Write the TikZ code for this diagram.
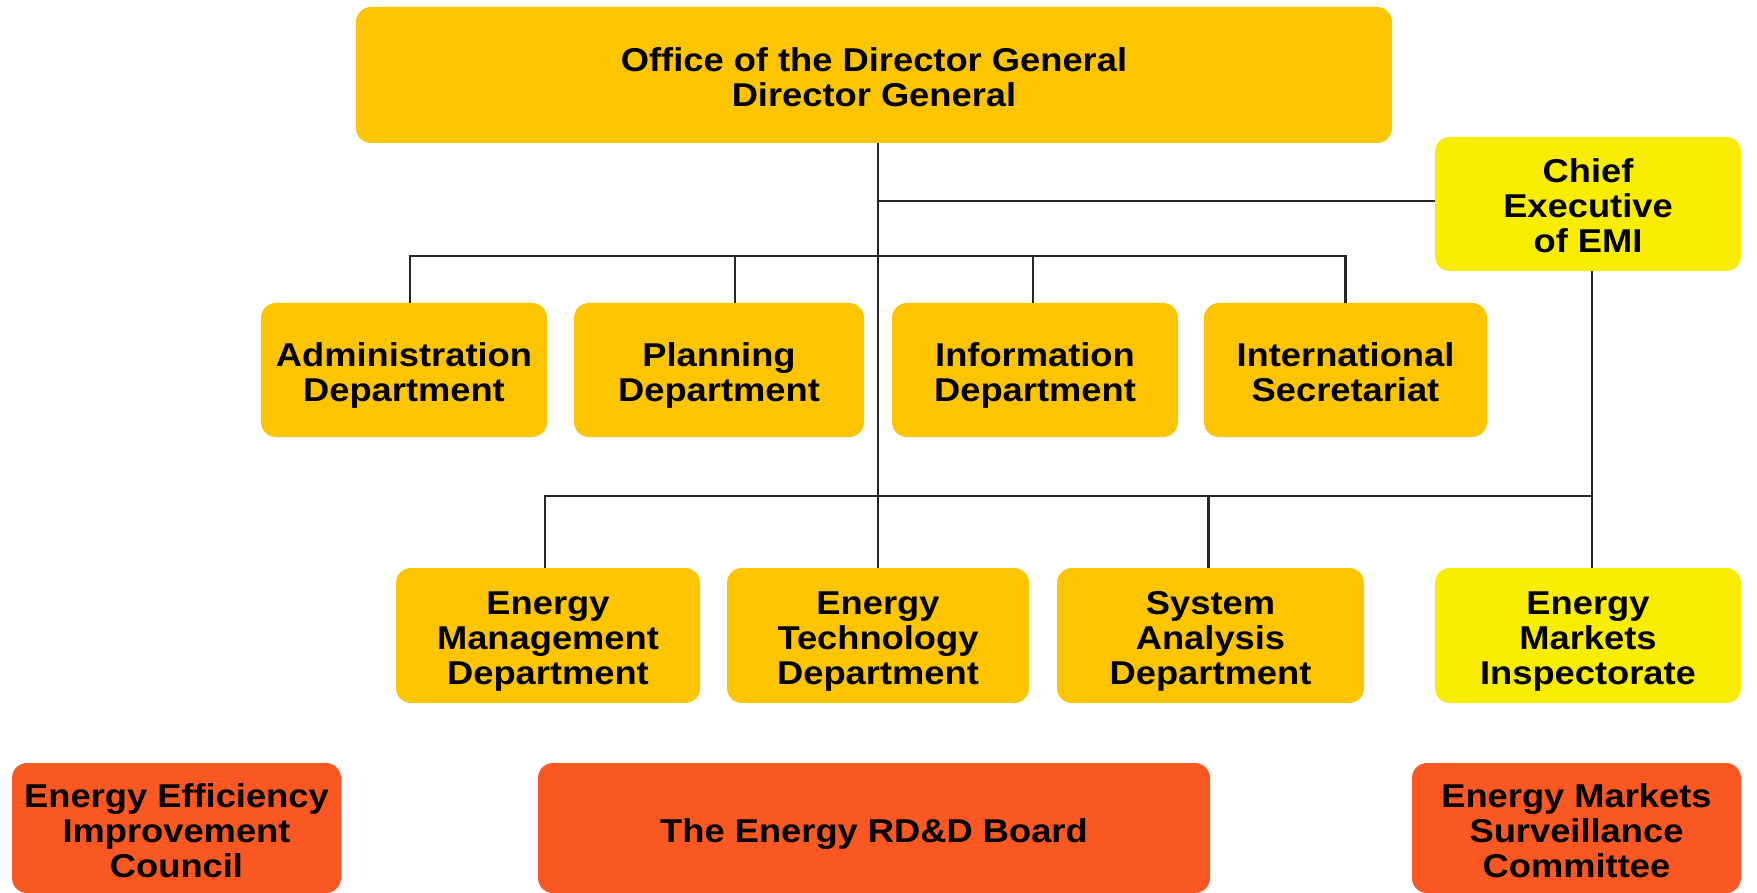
\documentclass[tikz,border=0pt]{standalone}
\usepackage{fontspec}
\setmainfont{Liberation Sans}[FakeStretch=1.1]
\definecolor{gold}{RGB}{253,197,0}
\definecolor{lemon}{RGB}{248,236,0}
\definecolor{flame}{RGB}{250,88,35}
\newcommand\tstr{\rule{0pt}{36pt}}
\newcommand\bstr{\rule[-8pt]{0pt}{8pt}}
\begin{document}
\begin{tikzpicture}[x=1pt,y=-1pt,
  box/.style={rounded corners=15pt, inner sep=0pt, align=center,
    font=\fontsize{33}{35}\selectfont\bfseries, text=black, minimum height=134pt},
  goldbox/.style={box, fill=gold},
  lemonbox/.style={box, fill=lemon},
  flamebox/.style={box, fill=flame, minimum height=130pt},
  conn/.style={draw=black!85, line width=2.6pt}]
\useasboundingbox (0,0) rectangle (1757,893);
% top
\node[goldbox, minimum width=1036pt, minimum height=136pt] (top) at (874,75) {\tstr Office of the Director General\\Director General\bstr};
\node[lemonbox, minimum width=306pt] (chief) at (1588,204) {\tstr Chief\\Executive\\of EMI\bstr};
% row 2
\node[goldbox, minimum width=286pt] (adm) at (404,370) {\tstr Administration\\Department\bstr};
\node[goldbox, minimum width=290pt] (plan) at (719,370) {\tstr Planning\\Department\bstr};
\node[goldbox, minimum width=286pt] (info) at (1035,370) {\tstr Information\\Department\bstr};
\node[goldbox, minimum width=283pt] (intl) at (1345.5,370) {\tstr International\\Secretariat\bstr};
% row 3
\node[goldbox, minimum width=304pt, minimum height=135pt] (em) at (548,635.5) {\tstr Energy\\Management\\Department\bstr};
\node[goldbox, minimum width=302pt, minimum height=135pt] (et) at (878,635.5) {\tstr Energy\\Technology\\Department\bstr};
\node[goldbox, minimum width=307pt, minimum height=135pt] (sa) at (1210.5,635.5) {\tstr System\\Analysis\\Department\bstr};
\node[lemonbox, minimum width=306pt, minimum height=135pt] (emi) at (1588,635.5) {\tstr Energy\\Markets\\Inspectorate\bstr};
% row 4
\node[flamebox, minimum width=329pt] (eeic) at (176.5,828) {\tstr Energy Efficiency\\Improvement\\Council\bstr};
\node[flamebox, minimum width=672pt] (rdd) at (874,828) {\tstr The Energy RD\&D Board\bstr};
\node[flamebox, minimum width=329pt] (emsc) at (1576.5,828) {\tstr Energy Markets\\Surveillance\\Committee\bstr};
% connectors
\coordinate (b2) at (878,256);
\coordinate (b3) at (878,496);
\draw[conn] (et.north |- top.south) -- (et.north);
\draw[conn] (et.north |- 0,201) -- (chief.west |- 0,201);
\draw[conn] ([xshift=6pt]adm.north) |- (b2) -| (intl.north);
\draw[conn] ([xshift=16pt]plan.north) -- ([xshift=16pt]plan.north |- b2);
\draw[conn] ([xshift=-2pt]info.north) -- ([xshift=-2pt]info.north |- b2);
\draw[conn] ([xshift=4pt]chief.south) -- ([xshift=4pt]emi.north);
\draw[conn] ([xshift=-3pt]em.north) |- ([xshift=4pt]chief.south |- b3);
\draw[conn] ([xshift=-2pt]sa.north) -- ([xshift=-2pt]sa.north |- b3);
\end{tikzpicture}
\end{document}
